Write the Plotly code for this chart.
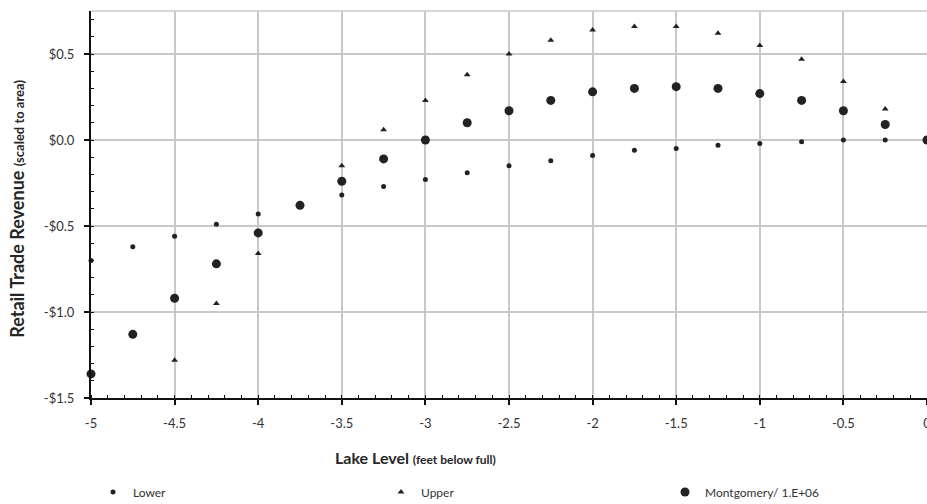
import plotly.graph_objects as go

# Data
lake_level = [-5, -4.75, -4.5, -4.25, -4, -3.75, -3.5, -3.25, -3, -2.75, -2.5,
              -2.25, -2, -1.75, -1.5, -1.25, -1, -0.75, -0.5, -0.25, 0]
lower = [-0.70, -0.62, -0.56, -0.49, -0.43, -0.38, -0.32, -0.27, -0.23, -0.19, -0.15,
         -0.12, -0.09, -0.06, -0.05, -0.03, -0.02, -0.01, 0.00, 0.00, 0.00]
upper = [None, None, -1.28, -0.95, -0.66, -0.38, -0.15, 0.06, 0.23, 0.38, 0.50,
         0.58, 0.64, 0.66, 0.66, 0.62, 0.55, 0.47, 0.34, 0.18, 0.00]
montgomery = [-1.36, -1.13, -0.92, -0.72, -0.54, -0.38, -0.24, -0.11, 0.00, 0.10, 0.17,
              0.23, 0.28, 0.30, 0.31, 0.30, 0.27, 0.23, 0.17, 0.09, 0.00]

x_tickvals = [-5, -4.5, -4, -3.5, -3, -2.5, -2, -1.5, -1, -0.5, 0]
x_ticktext = ["-5", "-4.5", "-4", "-3.5", "-3", "-2.5", "-2", "-1.5", "-1", "-0.5", "0"]
y_tickvals = [-1.5, -1.0, -0.5, 0.0, 0.5]
y_ticktext = ["-$1.5", "-$1.0", "-$0.5", "$0.0", "$0.5"]

FONT = "Lato, 'Open Sans', sans-serif"
MARK = "#222222"

fig = go.Figure()
fig.add_trace(go.Scatter(x=lake_level, y=lower, mode="markers", name="Lower",
                         marker=dict(symbol="circle", size=5, color=MARK),
                         cliponaxis=False, legend="legend"))
fig.add_trace(go.Scatter(x=lake_level, y=upper, mode="markers", name="Upper",
                         marker=dict(symbol="triangle-up", size=6, color=MARK),
                         cliponaxis=False, legend="legend2"))
fig.add_trace(go.Scatter(x=lake_level, y=montgomery, mode="markers", name="Montgomery/ 1.E+06",
                         marker=dict(symbol="circle", size=9, color=MARK),
                         cliponaxis=False, legend="legend3"))

PLOT_L, PLOT_W, PLOT_B, PLOT_H = 91, 836, 398, 387

def leg(xpx):
    return dict(xref="paper", yref="paper", x=(xpx - PLOT_L) / PLOT_W, xanchor="left",
                y=(PLOT_B - 492) / PLOT_H, yanchor="middle",
                font=dict(size=12, color="#333333"), bgcolor="rgba(0,0,0,0)")

fig.update_layout(
    template="none",
    width=927, height=504,
    margin=dict(l=91, r=0, t=11, b=106, autoexpand=False),
    paper_bgcolor="white", plot_bgcolor="white",
    font=dict(family=FONT, size=13, color="#333333"),
    showlegend=True,
    legend=leg(93), legend2=leg(381), legend3=leg(665),
    xaxis=dict(range=[-5, 0], tickvals=x_tickvals, ticktext=x_ticktext,
               showgrid=True, gridcolor="#c8c8c8", gridwidth=1.5,
               showline=True, linecolor="#111111", linewidth=2,
               ticks="outside", ticklen=5, tickwidth=1.5, tickcolor="#111111",
               ticklabelstandoff=7, ticklabeloverflow="allow",
               minor=dict(dtick=0.1, ticks="inside", ticklen=3, tickwidth=1.2,
                          tickcolor="#111111", showgrid=False),
               zeroline=False, automargin=False,
               tickfont=dict(size=13, color="#333333")),
    yaxis=dict(range=[-1.5, 0.75], tickvals=y_tickvals, ticktext=y_ticktext,
               showgrid=True, gridcolor="#c8c8c8", gridwidth=1.5,
               showline=True, linecolor="#111111", linewidth=2,
               ticks="outside", ticklen=5, tickwidth=1.5, tickcolor="#111111",
               ticklabelstandoff=7,
               minor=dict(dtick=0.1, ticks="inside", ticklen=3, tickwidth=1.2,
                          tickcolor="#111111", showgrid=False),
               zeroline=False, automargin=False,
               tickfont=dict(size=13, color="#333333")),
    shapes=[dict(type="line", xref="paper", yref="paper", x0=0, x1=1, y0=1, y1=1,
                 line=dict(color="#c8c8c8", width=1.5), layer="below")],
    annotations=[
        dict(text="<b>Lake Level <span style='font-size:12px'>(feet below full)</span></b>",
             xref="paper", yref="paper", x=0.388, y=-0.155, xanchor="center", yanchor="middle",
             showarrow=False, font=dict(size=16, color="#262626", family=FONT)),
        dict(text="<b>Retail Trade Revenue <span style='font-size:13px'>(scaled to area)</span></b>",
             xref="paper", yref="paper", x=-0.088, y=0.49, xanchor="center", yanchor="middle",
             textangle=-90, showarrow=False, font=dict(size=18, color="#262626", family=FONT)),
    ],
)

fig.write_html("out.html")
